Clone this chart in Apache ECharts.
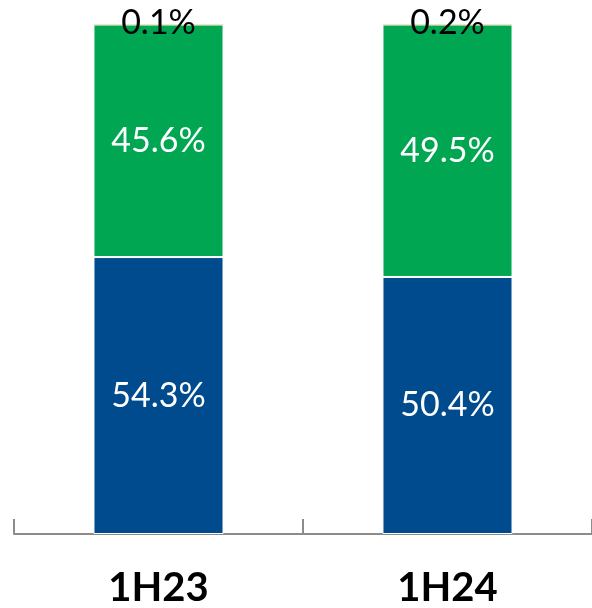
<!DOCTYPE html>
<html>
<head>
<meta charset="utf-8">
<script src="https://cdn.jsdelivr.net/npm/echarts@6/dist/echarts.min.js"></script>
<style>
  html, body { margin: 0; padding: 0; background: #fff; }
  #chart { width: 592px; height: 608px; }
</style>
</head>
<body>
<div id="chart"></div>
<script>
// data
const categories = ['1H23', '1H24']
const blueShare = [54.3, 50.4]
const greenShare = [45.6, 49.5]
const goldShare = [0.1, 0.2]

const fmt = (p) => p.value.toFixed(1) + '%'

const chart = echarts.init(document.getElementById('chart'))

const option = {
  animation: false,
  textStyle: { fontFamily: 'Lato' },
  grid: { left: 14, right: -2, top: 24, bottom: 67 },
  xAxis: {
    type: 'category',
    data: categories,
    axisLine: { lineStyle: { color: '#8c8c8c', width: 2 } },
    axisTick: { show: true, inside: true, length: 15, interval: 0, lineStyle: { color: '#8c8c8c', width: 2 } },
    axisLabel: { color: '#000', fontSize: 40, fontWeight: 'bold', margin: 34, fontFamily: 'Lato' }
  },
  yAxis: {
    type: 'value',
    min: 0,
    max: 100,
    show: false
  },
  series: [
    {
      name: 'blue',
      type: 'bar',
      stack: 'total',
      barWidth: '45%',
      data: blueShare,
      itemStyle: { color: '#004b8d', borderColor: '#fff', borderWidth: 1 },
      label: { show: true, position: 'inside', color: '#fff', fontSize: 34, formatter: fmt }
    },
    {
      name: 'green',
      type: 'bar',
      stack: 'total',
      data: greenShare,
      itemStyle: { color: '#00a651', borderColor: '#fff', borderWidth: 1 },
      label: { show: true, position: 'inside', color: '#fff', fontSize: 34, formatter: fmt }
    },
    {
      name: 'gold',
      type: 'bar',
      stack: 'total',
      barMinHeight: 3,
      data: goldShare,
      itemStyle: { color: '#f5c86b' },
      label: { show: true, position: 'inside', color: '#000', fontSize: 34, offset: [0, -1], formatter: fmt }
    }
  ]
}

chart.setOption(option)
</script>
</body>
</html>
